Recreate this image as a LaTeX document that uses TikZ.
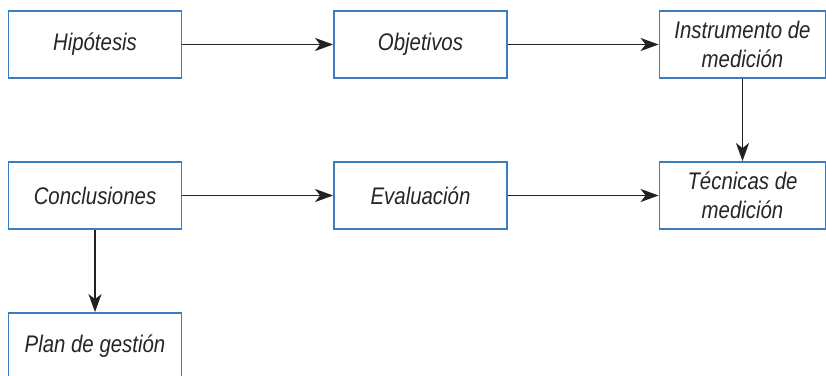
\documentclass[tikz,border=0pt]{standalone}
\usepackage{fontspec}
\setmainfont{Liberation Sans}[FakeStretch=0.85]
\usetikzlibrary{arrows.meta}
\definecolor{boxblue}{HTML}{3A7CC0}
\definecolor{arrowgray}{HTML}{222222}
\definecolor{textgray}{HTML}{262626}
\begin{document}
\begin{tikzpicture}[x=1pt,y=-1pt,
  box/.style={draw=boxblue,line width=1.8pt,fill=white,minimum width=173pt,minimum height=67pt,
    inner sep=0pt,align=center,text=textgray,font=\fontsize{24}{29.5}\selectfont\itshape},
  conn/.style={draw=arrowgray,line width=1.8pt,-{Stealth[length=18pt,width=13pt,inset=5pt]}}]
\useasboundingbox (0,0) rectangle (826,375);
\node[box] (hip) at (95,44.5) {Hipótesis};
\node[box] (obj) at (420.5,44.5) {Objetivos};
\node[box,minimum width=166pt] (ins) at (742.5,44.5) {Instrumento de\\medición};
\node[box] (con) at (95,195.5) {Conclusiones};
\node[box] (eva) at (420.5,195.5) {Evaluación};
\node[box,minimum width=166pt] (tec) at (742.5,195.5) {Técnicas de\\medición};
\node[box] (pla) at (95,346.5) {Plan de gestión};
\draw[conn] (hip) -- (obj);
\draw[conn] (obj) -- (ins);
\draw[conn] (ins) -- (tec);
\draw[conn] (con) -- (eva);
\draw[conn] (eva) -- (tec);
\draw[conn] (con) -- (pla);
\end{tikzpicture}
\end{document}
